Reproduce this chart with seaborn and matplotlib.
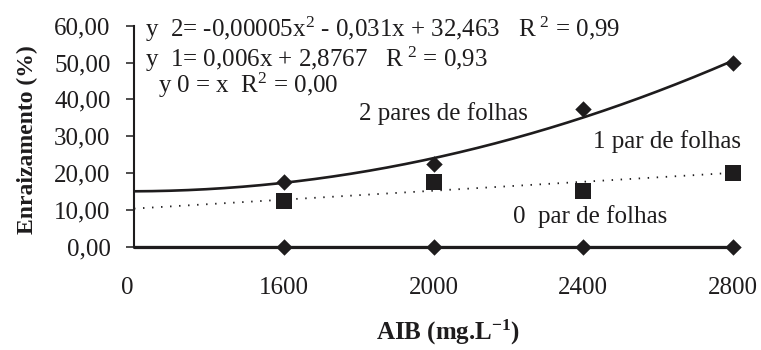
import numpy as np
import pandas as pd
import matplotlib
matplotlib.use("Agg")
import matplotlib.pyplot as plt
import matplotlib.transforms as mtransforms
import seaborn as sns

# ---- data ----
categories = ["0", "1600", "2000", "2400", "2800"]
positions = [0, 1, 2, 3, 4]
two_pairs = [np.nan, 17.5, 22.5, 37.5, 50.0]
one_pair = [np.nan, 12.5, 17.5, 15.0, 20.0]
zero_pair = [np.nan, 0.0, 0.0, 0.0, 0.0]
# trendline coefficients (in category-position units, highest power first)
trend_two_coef = [2.1875, 0.125, 15.0]
trend_one_coef = [2.43, 10.3]
trend_zero_coef = [0.0]
yticks = [0, 10, 20, 30, 40, 50, 60]

eq2 = "y  2= -0,00005x$^2$ - 0,031x + 32,463   R$^{\\ 2}$ = 0,99"
eq1 = "y  1= 0,006x + 2,8767   R$^{\\ 2}$ = 0,93"
eq0 = "y 0 = x  R$^2$ = 0,00"

sns.set_theme(style="ticks")
plt.rcParams["font.family"] = ["Liberation Serif", "DejaVu Serif"]
plt.rcParams["mathtext.fontset"] = "custom"
plt.rcParams["mathtext.rm"] = "Liberation Serif"
plt.rcParams["mathtext.it"] = "Liberation Serif"
plt.rcParams["mathtext.bf"] = "Liberation Serif:bold"

ink = "#1e1c1d"
fig = plt.figure(figsize=(7.61, 3.5), dpi=100)
ax = fig.add_axes([134 / 761, (350 - 246.5) / 350, (733 - 134) / 761, 220.8 / 350])

xs = np.linspace(0, 4, 200)
df_trend = pd.DataFrame({
    "x": np.concatenate([xs, xs, xs]),
    "y": np.concatenate([np.polyval(trend_two_coef, xs),
                         np.polyval(trend_one_coef, xs),
                         np.polyval(trend_zero_coef, xs)]),
    "s": ["2"] * len(xs) + ["1"] * len(xs) + ["0"] * len(xs),
})

sns.lineplot(data=df_trend[df_trend.s == "2"], x="x", y="y", ax=ax,
             color=ink, linewidth=1.9, legend=False)
sns.lineplot(data=df_trend[df_trend.s == "1"], x="x", y="y", ax=ax,
             color=ink, linewidth=1.3, legend=False)
ax.lines[-1].set_linestyle((0, (0.8, 4.2)))
sns.lineplot(data=df_trend[df_trend.s == "0"], x="x", y="y", ax=ax,
             color=ink, linewidth=2.3, legend=False)
ax.lines[-1].set_clip_on(False)

sns.scatterplot(x=positions, y=two_pairs, marker="D", s=70, color=ink,
                linewidth=0, ax=ax, zorder=5)
sns.scatterplot(x=positions, y=one_pair, marker="s", s=120, color=ink,
                linewidth=0, ax=ax, zorder=5)
sns.scatterplot(x=positions, y=zero_pair, marker="D", s=70, color=ink,
                linewidth=0, ax=ax, zorder=5)
for c in ax.collections:
    c.set_clip_on(False)

ax.set_xlim(0, 4)
ax.set_ylim(0, 60)
ax.set_xticks(positions)
ax.set_xticklabels(categories)
ax.set_yticks(yticks)
ax.set_yticklabels([f"{v:.2f}".replace(".", ",") for v in yticks])
fs = 18
ax.tick_params(axis="y", length=6, width=1.1, color=ink, pad=11,
               labelsize=fs, labelcolor=ink, direction="out")
ax.tick_params(axis="x", length=0, pad=22, labelsize=fs, labelcolor=ink)
lbl0 = ax.get_xticklabels()[0]
lbl0.set_transform(lbl0.get_transform() +
                   mtransforms.ScaledTranslation(-0.07, 0, fig.dpi_scale_trans))

for s in ["top", "right"]:
    ax.spines[s].set_visible(False)
ax.spines["left"].set_linewidth(1.5)
ax.spines["left"].set_color(ink)
ax.spines["bottom"].set_linewidth(1.5)
ax.spines["bottom"].set_color(ink)
ax.set_facecolor("white")
fig.patch.set_facecolor("white")

ax.set_ylabel("Enraizamento (%)", fontsize=17, fontweight="bold", color=ink)
ax.yaxis.set_label_coords(-(134 - 27) / 599, (246.5 - 140) / 220.8)
ax.yaxis.label.set_va("center")
ax.set_xlabel("AIB (mg.L$^{\\mathbf{-1}}$)", fontsize=18, fontweight="bold", color=ink)
ax.xaxis.set_label_coords((448 - 134) / 599, -(340 - 246.5) / 220.8)
ax.xaxis.label.set_va("baseline")

def px(xp, yp):
    return (xp / 761, 1 - yp / 350)

fig.text(*px(145, 37), eq2, fontsize=fs, color=ink, va="baseline", ha="left")
fig.text(*px(145, 67), eq1, fontsize=fs, color=ink, va="baseline", ha="left")
fig.text(*px(158, 93), eq0, fontsize=fs, color=ink, va="baseline", ha="left")
fig.text(*px(359, 120), "2 pares de folhas", fontsize=fs, color=ink, va="baseline", ha="left")
fig.text(*px(593, 148), "1 par de folhas", fontsize=fs, color=ink, va="baseline", ha="left")
fig.text(*px(513, 223), "0  par de folhas", fontsize=fs, color=ink, va="baseline", ha="left")

fig.savefig("out.png", dpi=100, facecolor="white")
